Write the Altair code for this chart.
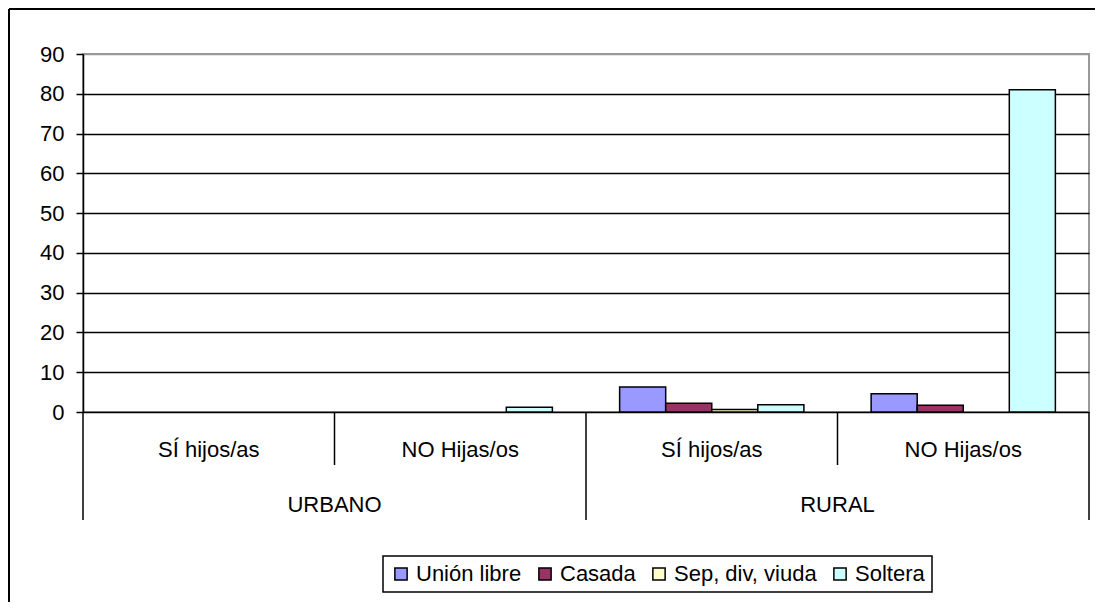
import altair as alt
import pandas as pd

# ---- data ----
group_ids = ["U-SI", "U-NO", "R-SI", "R-NO"]
sub_labels = ["SÍ hijos/as", "NO Hijas/os", "SÍ hijos/as", "NO Hijas/os"]
zones = ["URBANO", "URBANO", "RURAL", "RURAL"]
series = ["Unión libre", "Casada", "Sep, div, viuda", "Soltera"]
colors = ["#9999FF", "#993366", "#FFFFCC", "#CCFFFF"]
union_libre = [0, 0, 6.3, 4.6]
casada = [0, 0, 2.2, 1.7]
sep_div_viuda = [0, 0, 0.6, 0]
soltera = [0, 1.2, 1.8, 81.0]
y_ticks = list(range(0, 91, 10))

values_by_series = [union_libre, casada, sep_div_viuda, soltera]
rows = []
for s, vals in zip(series, values_by_series):
    for g, v in zip(group_ids, vals):
        rows.append({"gid": g, "serie": s, "valor": v})
bars_df = pd.DataFrame(rows)

sub_df = pd.DataFrame({"gid": group_ids, "label": sub_labels})
sep_df = pd.DataFrame({"gid": group_ids,
                       "kind": ["long", "short", "long", "short"]})
zone_df = pd.DataFrame({"gid": ["U-NO", "R-NO"], "label": ["URBANO", "RURAL"]})
end_df = pd.DataFrame({"gid": [group_ids[-1]]})
frame_df = pd.DataFrame({"k": [1]})

W, H = 1006, 358
FONT = "Liberation Sans"
FS = 22

xscale = alt.Scale(domain=group_ids, paddingInner=0, paddingOuter=0)

bars = alt.Chart(bars_df).transform_filter("datum.valor > 0").mark_bar(
    stroke="black", strokeWidth=1.5
).encode(
    x=alt.X("gid:N", scale=xscale, axis=None),
    xOffset=alt.XOffset("serie:N", sort=series,
                        scale=alt.Scale(domain=series, paddingInner=0, paddingOuter=0.73)),
    y=alt.Y("valor:Q", scale=alt.Scale(domain=[0, 90], nice=False),
            axis=alt.Axis(values=y_ticks, grid=True,
                          gridColor={"condition": {"test": "datum.value === 90", "value": "#999999"},
                                     "value": "black"},
                          gridWidth=1.5, domainColor="black", domainWidth=1.5,
                          tickColor="black", tickSize=7, tickWidth=1.5,
                          labelFont=FONT, labelFontSize=FS, labelColor="black",
                          labelPadding=12, title=None)),
    color=alt.Color("serie:N", sort=series,
                    scale=alt.Scale(domain=series, range=colors),
                    legend=alt.Legend(orient="none", legendX=300, legendY=502,
                                      direction="horizontal", title=None,
                                      strokeColor="black", padding=7,
                                      symbolType="square", symbolSize=150,
                                      symbolStrokeColor="black", symbolStrokeWidth=1.5,
                                      labelFont=FONT, labelFontSize=FS, labelColor="black",
                                      columnPadding=12, labelOffset=4, fillColor="white")),
)

short_rules = alt.Chart(sep_df).transform_filter("datum.kind == 'short'").mark_rule(
    color="black", strokeWidth=1.5
).encode(x=alt.X("gid:N", bandPosition=0, scale=xscale, axis=None),
         y=alt.value(H), y2=alt.value(411))

long_rules = alt.Chart(sep_df).transform_filter("datum.kind == 'long'").mark_rule(
    color="black", strokeWidth=1.5
).encode(x=alt.X("gid:N", bandPosition=0, scale=xscale, axis=None),
         y=alt.value(H), y2=alt.value(466))

end_rule = alt.Chart(end_df).mark_rule(color="black", strokeWidth=1.5).encode(
    x=alt.X("gid:N", bandPosition=1, scale=xscale, axis=None),
    y=alt.value(H), y2=alt.value(466))

sub_text = alt.Chart(sub_df).mark_text(
    font=FONT, fontSize=FS, color="black", baseline="middle", align="center"
).encode(x=alt.X("gid:N", bandPosition=0.5, scale=xscale, axis=None),
         y=alt.value(396), text="label:N")

zone_text = alt.Chart(zone_df).mark_text(
    font=FONT, fontSize=FS, color="black", baseline="middle", align="center"
).encode(x=alt.X("gid:N", bandPosition=0, scale=xscale, axis=None),
         y=alt.value(451), text="label:N")

frame_left = alt.Chart(frame_df).mark_rule(color="black", strokeWidth=2).encode(
    x=alt.value(-74), y=alt.value(-45), y2=alt.value(700))
frame_top = alt.Chart(frame_df).mark_rule(color="black", strokeWidth=2).encode(
    x=alt.value(-74), x2=alt.value(1200), y=alt.value(-45))

chart = alt.layer(
    frame_left, frame_top, bars, short_rules, long_rules, end_rule, sub_text, zone_text
).properties(
    width=W, height=H,
    autosize=alt.AutoSizeParams(type="none"),
    padding={"left": 75, "top": 46, "right": 6, "bottom": 190},
).configure_view(stroke="#999999", strokeWidth=2).configure_legend(strokeWidth=1.5)

chart.save("out.html", embed_options={"renderer": "svg", "actions": False})
